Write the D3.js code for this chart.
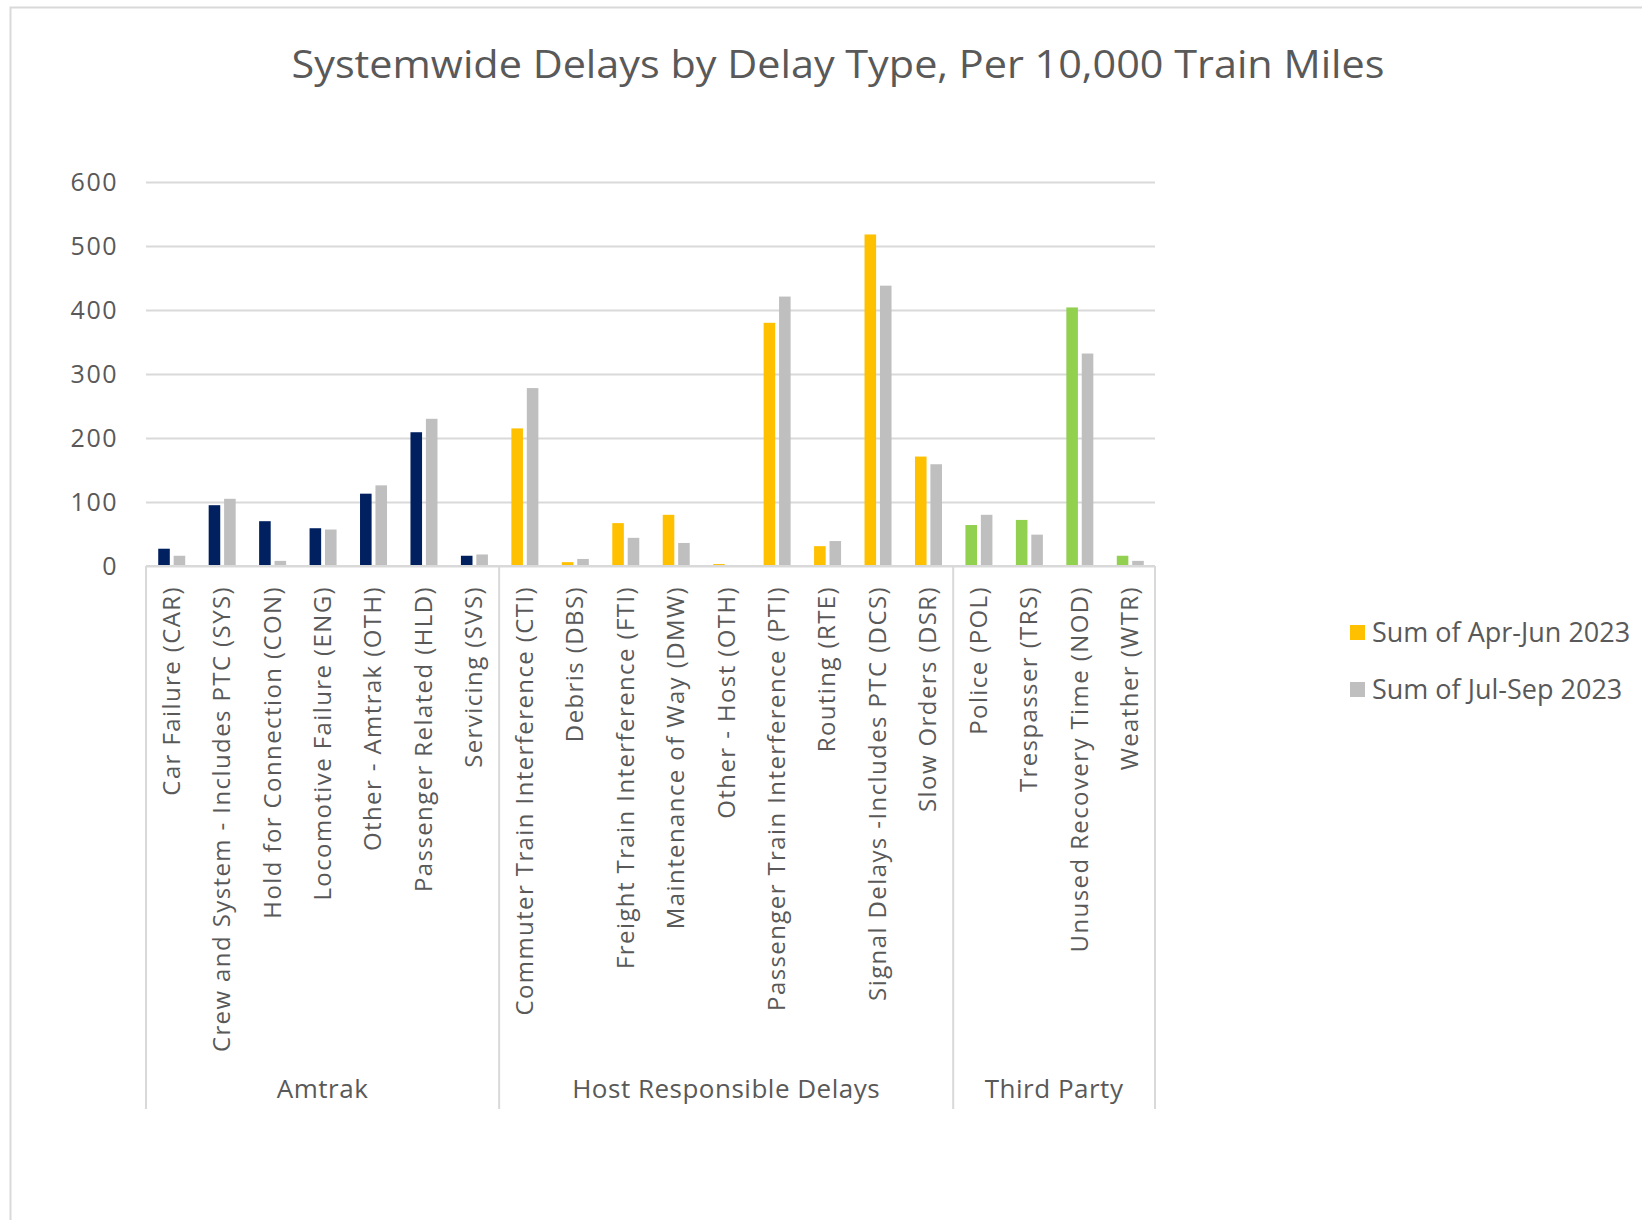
<!DOCTYPE html>
<html>
<head>
<meta charset="utf-8">
<script src="https://cdn.jsdelivr.net/npm/d3@7"></script>
<style>
  body { margin: 0; background: #fff; }
  text { font-family: "Open Sans", "Liberation Sans", sans-serif; fill: #595959; }
</style>
</head>
<body>
<div id="chart"></div>
<script>
"use strict"

// categories and the group each one belongs to
const categories = [
  "Car Failure (CAR)", "Crew and System - Includes PTC (SYS)", "Hold for Connection (CON)",
  "Locomotive Failure (ENG)", "Other - Amtrak (OTH)", "Passenger Related (HLD)", "Servicing (SVS)",
  "Commuter Train Interference (CTI)", "Debris (DBS)", "Freight Train Interference (FTI)",
  "Maintenance of Way (DMW)", "Other - Host (OTH)", "Passenger Train Interference (PTI)",
  "Routing (RTE)", "Signal Delays -Includes PTC (DCS)", "Slow Orders (DSR)",
  "Police (POL)", "Trespasser (TRS)", "Unused Recovery Time (NOD)", "Weather (WTR)"
];
const categoryGroups = [
  "Amtrak", "Amtrak", "Amtrak", "Amtrak", "Amtrak", "Amtrak", "Amtrak",
  "Host Responsible Delays", "Host Responsible Delays", "Host Responsible Delays",
  "Host Responsible Delays", "Host Responsible Delays", "Host Responsible Delays",
  "Host Responsible Delays", "Host Responsible Delays", "Host Responsible Delays",
  "Third Party", "Third Party", "Third Party", "Third Party"
];
const groupNames = ["Amtrak", "Host Responsible Delays", "Third Party"];

// series values
const aprJun = [27, 95, 70, 59, 113, 209, 16, 215, 6, 67, 80, 3, 380, 31, 518, 171, 64, 72, 404, 16];
const julSep = [16, 105, 8, 57, 126, 230, 18, 278, 11, 44, 36, 0, 421, 39, 438, 159, 80, 49, 332, 8];
const seriesNames = ["Sum of Apr-Jun 2023", "Sum of Jul-Sep 2023"];

const yTicks = [0, 100, 200, 300, 400, 500, 600];

const groupColor = {"Amtrak": "#002060", "Host Responsible Delays": "#FFC000", "Third Party": "#92D050"};
const grayColor = "#BFBFBF";

const W = 1642, H = 1220;
const margin = {top: 182, left: 146, right: 487, bottom: 654};
const plotW = W - margin.left - margin.right,
  plotH = H - margin.top - margin.bottom;

const svg = d3.select("#chart").append("svg")
  .attr("width", W).attr("height", H);

// chart frame (cut off on right and bottom like the reference)
svg.append("rect")
  .attr("x", 10.5).attr("y", 7.5)
  .attr("width", W).attr("height", H)
  .attr("fill", "none").attr("stroke", "#d9d9d9").attr("stroke-width", 2);

// title
svg.append("text")
  .attr("x", 838).attr("y", 78)
  .attr("text-anchor", "middle")
  .attr("textLength", 1093)
  .attr("lengthAdjust", "spacingAndGlyphs")
  .style("font-size", "39px")
  .text("Systemwide Delays by Delay Type, Per 10,000 Train Miles");

const g = svg.append("g").attr("transform", "translate(" + margin.left + "," + margin.top + ")");

const x = d3.scaleBand().domain(categories).range([0, plotW]).padding(0);
const xInner = d3.scaleBand().domain([0, 1]).range([-13, 14]).paddingInner(0.25);
const y = d3.scaleLinear().domain([0, 600]).range([plotH, 0]);

// gridlines
g.append("g")
  .call(d3.axisLeft(y).tickValues(yTicks).tickSize(-plotW).tickFormat(""))
  .call(s => s.select(".domain").remove())
  .call(s => s.selectAll("line").attr("stroke", "#d9d9d9").attr("stroke-width", 2));

// y labels
g.append("g")
  .call(d3.axisLeft(y).tickValues(yTicks).tickSize(0).tickPadding(28))
  .call(s => s.select(".domain").remove())
  .call(s => s.selectAll("text").style("font-size", "25px").style("letter-spacing", "1.5px")
    .style("font-family", "'Open Sans', sans-serif").attr("fill", "#595959"));

// bars
const rows = categories.map((c, i) => ({cat: c, grp: categoryGroups[i], vals: [aprJun[i], julSep[i]]}));
const cat = g.selectAll(".cat").data(rows).enter().append("g")
  .attr("transform", d => "translate(" + (x(d.cat) + x.bandwidth() / 2) + ",0)");
cat.selectAll("rect")
  .data(d => d.vals.map((v, k) => ({v: v, k: k, grp: d.grp})))
  .enter().append("rect")
  .attr("x", d => xInner(d.k))
  .attr("width", xInner.bandwidth())
  .attr("y", d => y(d.v))
  .attr("height", d => y(0) - y(d.v))
  .attr("fill", d => d.k === 0 ? groupColor[d.grp] : grayColor);

// bottom axis line
g.append("line")
  .attr("x1", 0).attr("x2", plotW).attr("y1", plotH).attr("y2", plotH)
  .attr("stroke", "#d9d9d9").attr("stroke-width", 2);

// category labels, rotated
cat.append("text")
  .attr("transform", "translate(0," + (plotH + 20) + ") rotate(-90)")
  .attr("text-anchor", "end")
  .attr("dy", "0.35em")
  .style("font-size", "24px")
  .style("letter-spacing", "1.4px")
  .text(d => d.cat);

// group separators and labels
const sepBottom = 1109 - margin.top;
const groupSpans = groupNames.map(gn => {
  const idx = categories.filter((c, i) => categoryGroups[i] === gn);
  return {name: gn, x0: x(idx[0]), x1: x(idx[idx.length - 1]) + x.bandwidth()};
});
const edges = [0].concat(groupSpans.map(d => d.x1));
g.selectAll(".sep").data(edges).enter().append("line")
  .attr("x1", d => d).attr("x2", d => d)
  .attr("y1", plotH).attr("y2", sepBottom)
  .attr("stroke", "#d9d9d9").attr("stroke-width", 2);
g.selectAll(".grp").data(groupSpans).enter().append("text")
  .attr("x", d => (d.x0 + d.x1) / 2)
  .attr("y", 1089 - margin.top)
  .attr("dy", "0.35em")
  .attr("text-anchor", "middle")
  .style("font-size", "26px")
  .style("letter-spacing", "0.5px")
  .text(d => d.name);

// legend
const legend = svg.append("g").attr("transform", "translate(1350,633)");
const li = legend.selectAll("g").data(seriesNames).enter().append("g")
  .attr("transform", (d, i) => "translate(0," + i * 57 + ")");
li.append("rect")
  .attr("x", 0).attr("y", -8).attr("width", 15).attr("height", 15)
  .attr("fill", (d, i) => i === 0 ? groupColor["Host Responsible Delays"] : grayColor);
li.append("text")
  .attr("x", 22).attr("dy", "0.35em")
  .style("font-size", "27px")
  .text(d => d);
</script>
</body>
</html>
